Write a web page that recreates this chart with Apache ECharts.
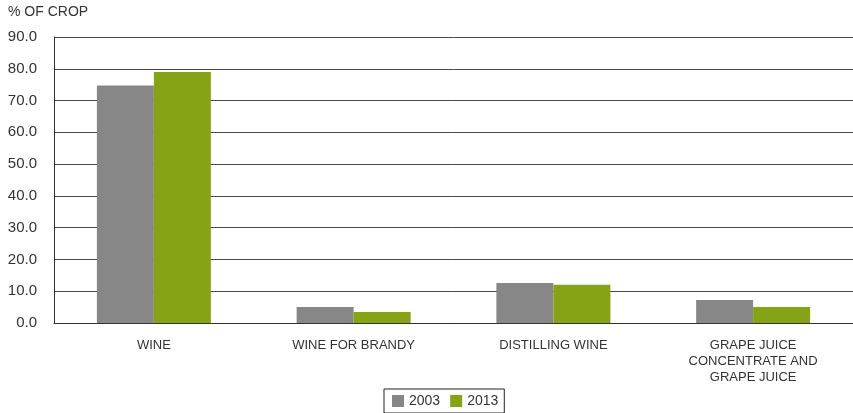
<!DOCTYPE html>
<html>
<head>
<meta charset="utf-8">
<script src="https://cdn.jsdelivr.net/npm/echarts@6/dist/echarts.min.js"></script>
<style>
  html, body { margin: 0; padding: 0; background: #fff; }
  #chart { width: 853px; height: 413px; }
</style>
</head>
<body>
<div id="chart"></div>
<script>
const FONT = '"Liberation Sans", Arial, sans-serif';
const TEXTCOLOR = '#333';

const categories = ['WINE', 'WINE FOR BRANDY', 'DISTILLING WINE', 'GRAPE JUICE\nCONCENTRATE AND\nGRAPE JUICE'];
const years = ['2003', '2013'];
const values2003 = [74.7, 5.0, 12.6, 7.2];
const values2013 = [79.0, 3.5, 12.0, 5.0];
const colors = ['#878787', '#86a316'];

const myChart = echarts.init(document.getElementById('chart'));

myChart.setOption({
  backgroundColor: '#fff',
  animation: false,
  color: colors,
  textStyle: { fontFamily: FONT },
  grid: {
    left: 54,
    right: 0,
    top: 37,
    bottom: 90
  },
  legend: {
    data: years,
    left: 384,
    bottom: 0,
    itemWidth: 12,
    itemHeight: 12,
    itemGap: 10,
    icon: 'rect',
    padding: [5, 6, 5, 8],
    borderColor: '#222',
    borderWidth: 1,
    textStyle: { color: TEXTCOLOR, fontSize: 14, fontFamily: FONT }
  },
  xAxis: {
    type: 'category',
    data: categories,
    axisTick: { show: false },
    axisLine: { lineStyle: { color: '#333', width: 1 } },
    axisLabel: {
      color: TEXTCOLOR,
      fontSize: 13,
      lineHeight: 16,
      margin: 14,
      interval: 0
    }
  },
  yAxis: {
    type: 'value',
    name: '% OF CROP',
    nameLocation: 'end',
    nameGap: 18,
    nameTextStyle: { color: TEXTCOLOR, fontSize: 14, align: 'left', padding: [0, 0, 0, -46] },
    min: 0,
    max: 90,
    interval: 10,
    axisLine: { show: true, lineStyle: { color: '#333' } },
    axisTick: { show: false },
    axisLabel: {
      color: TEXTCOLOR,
      fontSize: 15,
      margin: 17,
      formatter: v => v.toFixed(1)
    },
    splitLine: { lineStyle: { color: '#4a4a4a', width: 1 } }
  },
  series: [
    {
      name: years[0],
      type: 'bar',
      data: values2003,
      barWidth: 57,
      barGap: '0%'
    },
    {
      name: years[1],
      type: 'bar',
      data: values2013,
      barWidth: 57,
      barGap: '0%'
    }
  ]
});
</script>
</body>
</html>
